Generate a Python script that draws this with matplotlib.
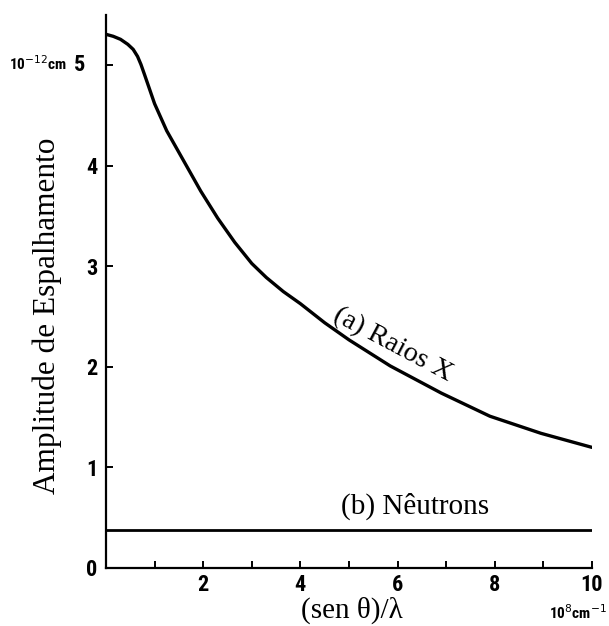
import matplotlib.pyplot as plt
from matplotlib import font_manager

# values
x_raios = [0.0, 0.15, 0.3, 0.45, 0.56, 0.65, 0.72, 0.8, 0.9, 1.0, 1.25, 1.6,
           1.95, 2.3, 2.65, 3.0, 3.3, 3.65, 4.0, 4.5, 5.0, 5.85, 6.9, 7.9,
           8.95, 10.0]
y_raios = [5.31, 5.29, 5.26, 5.21, 5.16, 5.09, 5.01, 4.90, 4.76, 4.62, 4.35,
           4.05, 3.75, 3.48, 3.24, 3.03, 2.89, 2.75, 2.63, 2.44, 2.27, 2.01,
           1.74, 1.51, 1.34, 1.20]
x_neutrons = [0.0, 10.0]
y_neutrons = [0.38, 0.38]

x_ticks = list(range(0, 11))
x_labels = ["", "", "2", "", "4", "", "6", "", "8", "", "10"]
y_ticks = [0, 1, 2, 3, 4, 5]
y_labels = ["0", "1", "2", "3", "4", ""]

# narrow sans for the tick numbers if one is around
names = {f.name for f in font_manager.fontManager.ttflist}
narrow = "DejaVu Sans"
for cand in ["Liberation Sans Narrow", "Roboto Condensed", "DejaVu Sans Condensed"]:
    if cand in names:
        narrow = cand
        break

serif = "Liberation Serif"
tick_font = dict(family=narrow, weight="bold", size=16)

fig = plt.figure(figsize=(6.09, 6.26), dpi=100)
ax = fig.add_axes([0.174, 0.0927, 0.798, 0.883])

ax.plot(x_raios, y_raios, color="black", lw=2.4, solid_capstyle="round",
        solid_joinstyle="round")
ax.plot(x_neutrons, y_neutrons, color="black", lw=2.0)

ax.set_xlim(0, 10)
ax.set_ylim(0, 5.5)
ax.spines["top"].set_visible(False)
ax.spines["right"].set_visible(False)
ax.spines["left"].set_linewidth(1.6)
ax.spines["bottom"].set_linewidth(1.6)

ax.set_xticks(x_ticks)
ax.set_xticklabels(x_labels, fontdict=tick_font)
ax.set_yticks(y_ticks)
ax.set_yticklabels(y_labels, fontdict=tick_font)
ax.tick_params(direction="in", length=5, width=1.4, pad=6)
ax.tick_params(axis="x", pad=4)

ax.set_ylabel("Amplitude de Espalhamento", family=serif, fontsize=22.5)
ax.yaxis.set_label_coords(-0.09, 0.457)
ax.set_xlabel("(sen θ)/λ", family=serif, fontsize=21)
ax.xaxis.set_label_coords(0.505, -0.052)

# unit labels
ax.text(-0.043, 5.0, "5", transform=ax.get_yaxis_transform(),
        ha="right", va="center", **tick_font)
ax.text(-0.08, 5.02, "10$^{-12}$cm", transform=ax.get_yaxis_transform(),
        ha="right", va="center", family=narrow, weight="bold", size=11)
ax.text(1.03, -0.064, "10$^{8}$cm$^{-1}$", transform=ax.transAxes,
        ha="right", va="top", family=narrow, weight="bold", size=11)

# curve labels
ax.text(5.9, 2.22, "(a) Raios X", family=serif, fontsize=20.5, rotation=-28,
        ha="center", va="center")
ax.text(6.35, 0.61, "(b) Nêutrons", family=serif, fontsize=21,
        ha="center", va="center")

fig.savefig("out.png", dpi=100)
